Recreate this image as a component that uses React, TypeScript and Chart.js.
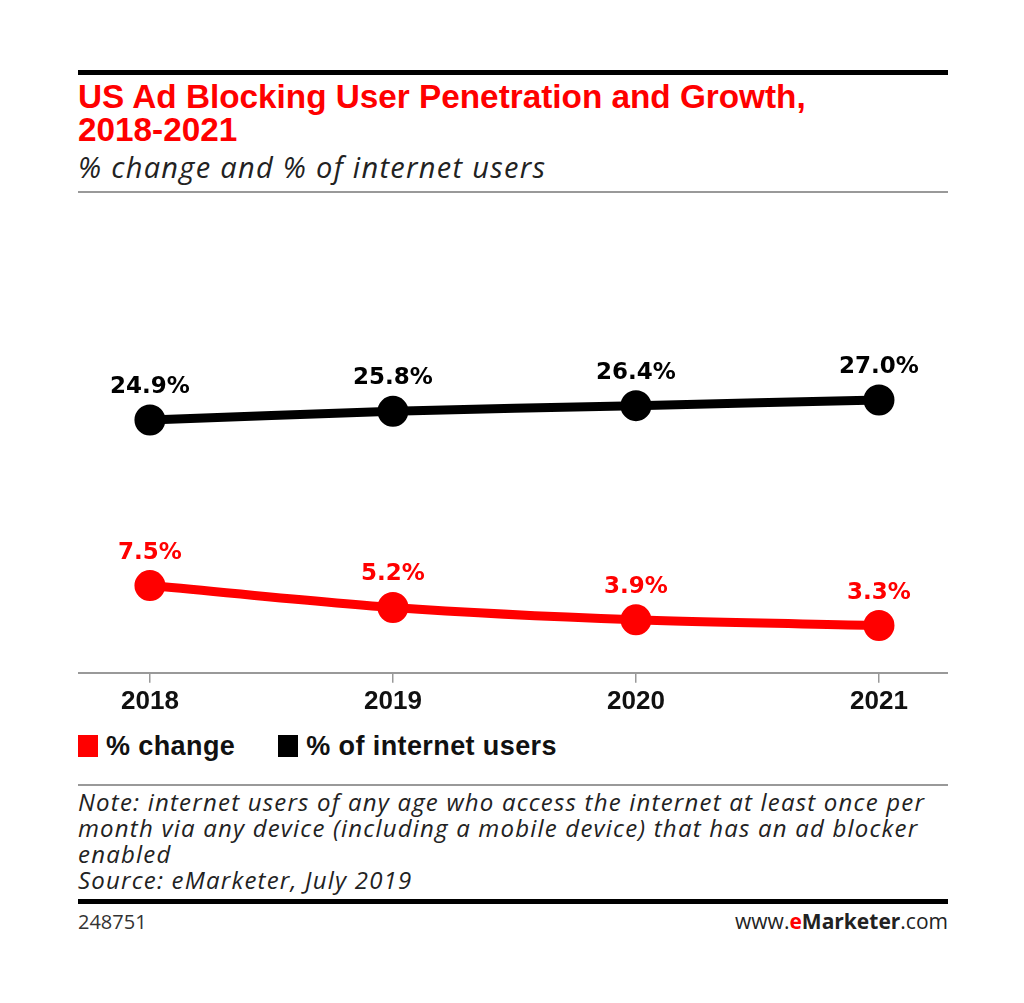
import React, { useEffect, useRef } from "react";
import { Chart, registerables } from "chart.js";

Chart.register(...registerables);

const years = [2018, 2019, 2020, 2021];
const pctChange = [7.5, 5.2, 3.9, 3.3];
const pctInternetUsers = [24.9, 25.8, 26.4, 27.0];
const seriesNames = ["% change", "% of internet users"];
const seriesColors = ["#ff0000", "#000000"];

const labelPlugin = {
  id: "pointLabels",
  afterDatasetsDraw(chart: any) {
    const ctx = chart.ctx;
    ctx.save();
    ctx.font = "bold 23px 'DejaVu Sans'";
    ctx.textAlign = "center";
    ctx.textBaseline = "alphabetic";
    chart.data.datasets.forEach((ds: any, i: number) => {
      const meta = chart.getDatasetMeta(i);
      meta.data.forEach((pt: any, j: number) => {
        const v = ds.data[j].y;
        ctx.fillStyle = ds.borderColor;
        ctx.fillText(v.toFixed(1) + "%", pt.x, pt.y - 27);
      });
    });
    ctx.restore();
  },
};

function LineChart() {
  const ref = useRef<HTMLCanvasElement>(null);
  useEffect(() => {
    if (!ref.current) return;
    const chart = new Chart(ref.current, {
      type: "line",
      data: {
        datasets: [
          {
            label: seriesNames[0],
            data: years.map((y, i) => ({ x: y, y: pctChange[i] })),
            borderColor: seriesColors[0],
            backgroundColor: seriesColors[0],
            borderWidth: 9,
            pointRadius: 11,
            pointHoverRadius: 11,
            tension: 0.3,
          },
          {
            label: seriesNames[1],
            data: years.map((y, i) => ({ x: y, y: pctInternetUsers[i] })),
            borderColor: seriesColors[1],
            backgroundColor: seriesColors[1],
            borderWidth: 9,
            pointRadius: 11,
            pointHoverRadius: 11,
            tension: 0.3,
          },
        ],
      },
      options: {
        animation: false,
        responsive: false,
        maintainAspectRatio: false,
        layout: { padding: 0, autoPadding: false },
        plugins: { legend: { display: false }, tooltip: { enabled: false } },
        scales: {
          x: {
            type: "linear",
            min: 2017.704,
            max: 2021.284,
            afterBuildTicks: (axis: any) => {
              axis.ticks = years.map((v) => ({ value: v }));
            },
            grid: {
              display: true,
              drawOnChartArea: false,
              drawTicks: true,
              tickLength: 10,
              color: "#999999",
              lineWidth: 1.5,
            },
            border: { display: true, color: "#999999", width: 2 },
            ticks: {
              padding: 3,
              color: "#111111",
              font: { family: "'Liberation Sans', Arial", size: 26, weight: "bold" },
              callback: (v: any) => String(v),
            },
          },
          y: {
            display: false,
            min: -1.66,
            max: 48,
          },
        },
      },
      plugins: [labelPlugin],
    });
    return () => chart.destroy();
  }, []);
  return <canvas ref={ref} width={870} height={520} style={{ position: "absolute", left: 78, top: 200, width: 870, height: 520 }} />;
}

export default function App() {
  const sans = "'Liberation Sans', Arial, sans-serif";
  const italicFont = "'Open Sans', sans-serif";
  return (
    <div style={{ position: "absolute", left: 0, top: 0, width: 1024, height: 1003, background: "#fff", overflow: "hidden" }}>
      <div style={{ position: "absolute", left: 78, top: 70, width: 870, height: 5, background: "#000" }} />
      <div style={{ position: "absolute", left: 78, top: 80, width: 880, fontFamily: sans, fontWeight: "bold", fontSize: 33.3, lineHeight: "33px", color: "#ff0000", whiteSpace: "nowrap" }}>
        US Ad Blocking User Penetration and Growth,
        <br />
        2018-2021
      </div>
      <div style={{ position: "absolute", left: 78, top: 148, fontFamily: italicFont, fontStyle: "italic", fontSize: 29, letterSpacing: "1.3px", lineHeight: "38px", color: "#222", whiteSpace: "nowrap" }}>
        % change and % of internet users
      </div>
      <div style={{ position: "absolute", left: 78, top: 191, width: 870, height: 2, background: "#999" }} />
      <LineChart />
      <div style={{ position: "absolute", left: 78, top: 730, height: 32, display: "flex", alignItems: "center", fontFamily: sans, fontWeight: "bold", fontSize: 27, letterSpacing: "0.4px", color: "#111", whiteSpace: "nowrap" }}>
        <span style={{ display: "inline-block", width: 20, height: 22, background: seriesColors[0], marginRight: 8 }} />
        <span>{seriesNames[0]}</span>
        <span style={{ display: "inline-block", width: 20, height: 22, background: seriesColors[1], marginLeft: 43, marginRight: 8 }} />
        <span>{seriesNames[1]}</span>
      </div>
      <div style={{ position: "absolute", left: 78, top: 784, width: 870, height: 2, background: "#999" }} />
      <div style={{ position: "absolute", left: 78, top: 789, fontFamily: italicFont, fontStyle: "italic", fontSize: 24, letterSpacing: "1.2px", lineHeight: "26px", color: "#222", whiteSpace: "nowrap" }}>
        Note: internet users of any age who access the internet at least once per
        <br />
        month via any device (including a mobile device) that has an ad blocker
        <br />
        enabled
        <br />
        Source: eMarketer, July 2019
      </div>
      <div style={{ position: "absolute", left: 78, top: 899, width: 870, height: 5, background: "#000" }} />
      <div style={{ position: "absolute", left: 78, top: 909, fontFamily: italicFont, fontSize: 20, lineHeight: "26px", color: "#333" }}>248751</div>
      <div style={{ position: "absolute", right: 1024 - 948, top: 907, fontFamily: italicFont, fontSize: 21, lineHeight: "28px", color: "#222", whiteSpace: "nowrap" }}>
        www.<span style={{ color: "#ff0000", fontWeight: "bold" }}>e</span>
        <span style={{ fontWeight: "bold" }}>Marketer</span>.com
      </div>
    </div>
  );
}
